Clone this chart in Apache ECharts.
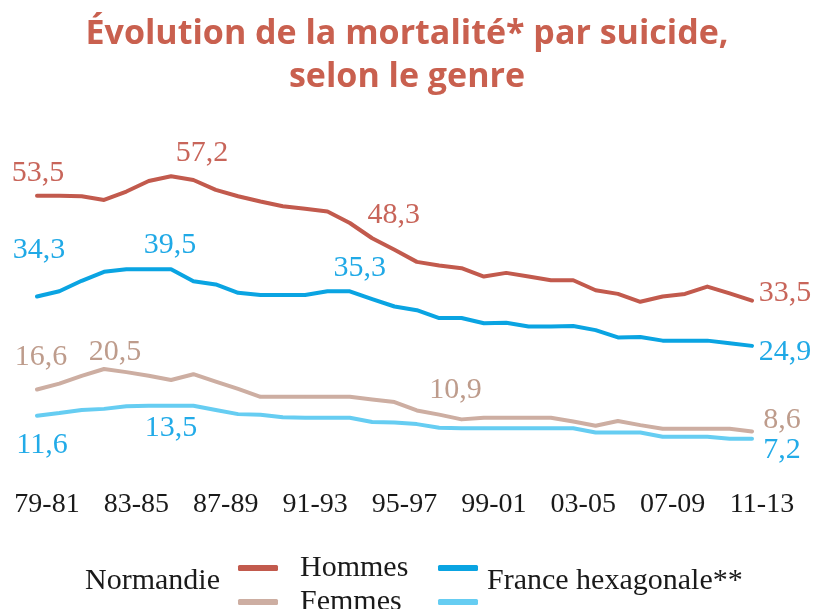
<!DOCTYPE html>
<html><head><meta charset="utf-8">
<script src="https://cdn.jsdelivr.net/npm/echarts@6/dist/echarts.min.js"></script>
<style>html,body{margin:0;padding:0;background:#fff}#c{width:814px;height:609px}</style>
</head><body><div id="c"></div>
<script>
const categories = ['79-81','80-82','81-83','82-84','83-85','84-86','85-87','86-88','87-89','88-90','89-91','90-92','91-93','92-94','93-95','94-96','95-97','96-98','97-99','98-00','99-01','00-02','01-03','02-04','03-05','04-06','05-07','06-08','07-09','08-10','09-11','10-12','11-13'];
const hommesNormandie = [53.5,53.5,53.4,52.7,54.3,56.3,57.2,56.5,54.6,53.4,52.4,51.5,51.0,50.5,48.3,45.4,43.2,40.9,40.2,39.7,38.1,38.8,38.1,37.4,37.4,35.5,34.8,33.3,34.3,34.8,36.2,34.9,33.5];
const femmesNormandie = [16.6,17.7,19.2,20.5,19.9,19.2,18.4,19.5,18.1,16.7,15.2,15.2,15.2,15.2,15.2,14.7,14.2,12.6,11.8,10.9,11.2,11.2,11.2,11.2,10.5,9.7,10.6,9.8,9.1,9.1,9.1,9.1,8.6];
const hommesFrance = [34.3,35.3,37.3,39.0,39.5,39.5,39.5,37.2,36.6,35.0,34.6,34.6,34.6,35.3,35.3,33.8,32.4,31.7,30.2,30.2,29.2,29.3,28.6,28.6,28.7,27.9,26.5,26.6,25.9,25.9,25.9,25.4,24.9];
const femmesFrance = [11.6,12.1,12.7,12.9,13.4,13.5,13.5,13.5,12.7,11.9,11.8,11.3,11.2,11.2,11.2,10.4,10.3,10.0,9.3,9.2,9.2,9.2,9.2,9.2,9.2,8.4,8.4,8.4,7.6,7.6,7.6,7.2,7.2];
const labelledPoints = {
  hn: [0, 6, 14, 32],
  fn: [0, 3, 19, 32],
  hf: [0, 6, 14, 32],
  ff: [0, 6, 32]
};

// styling / label placement (offsets from the point, in px)
const labelOffsets = {
  hn: [[1,-23],[31,-23],[44,-8],[33,-8]],
  fn: [[4,-32],[11,-17],[-6,-29],[30,-11]],
  hf: [[2,-46],[-1,-24],[10,-23],[33,6]],
  ff: [[5,29],[0,22],[30,11]]
};
const serif = '"Liberation Serif","Times New Roman",serif';
const colors = {hn:'#C25A4D', fn:'#CDAEA2', hf:'#0AA4E2', ff:'#66CDF2'};
const labelColors = {hn:'#C8655A', fn:'#BE9C8C', hf:'#20A9E6', ff:'#22ABE8'};
function fmt(v){ return v.toFixed(1).replace('.', ','); }
function buildData(key, values){
  const idx = labelledPoints[key];
  return values.map((v, i) => {
    const k = idx.indexOf(i);
    if (k < 0) return v;
    return {value: v, label: {show: true, position: 'inside', offset: labelOffsets[key][k],
      color: labelColors[key], fontSize: 30, fontFamily: serif, formatter: fmt(v)}};
  });
}
function mkSeries(name, key, values, z){
  return {name, type: 'line', data: buildData(key, values), symbol: 'circle', symbolSize: 1, showSymbol: true,
    lineStyle: {width: 4, color: colors[key], cap: 'round', join: 'round'},
    itemStyle: {color: colors[key]}, label: {show: false}, emphasis: {disabled: true}, silent: true, z};
}
const chart = echarts.init(document.getElementById('c'));
chart.setOption({
  animation: false,
  backgroundColor: '#fff',
  title: {text: 'Évolution de la mortalité* par suicide,\nselon le genre', left: 'center', top: 8,
    textStyle: {fontFamily: '"Open Sans"', fontWeight: 'bold', fontSize: 34, color: '#C9604F', lineHeight: 43}},
  grid: {left: 37, right: 62, top: 161.6, bottom: 132.4},
  xAxis: {type: 'category', data: categories, boundaryGap: false,
    axisLine: {show: false}, axisTick: {show: false}, splitLine: {show: false},
    axisLabel: {interval: 3, margin: 14, fontFamily: serif, fontSize: 28, color: '#1a1a1a', padding: [0,0,0,20]}},
  yAxis: {type: 'value', min: 0, max: 60, show: false},
  legend: [
    {data: ['Hommes','Femmes'], orient: 'vertical', left: 233, top: 548, height: 120, itemWidth: 40, itemHeight: 6, itemGap: 4,
      icon: 'roundRect', selectedMode: false, textStyle: {fontFamily: serif, fontSize: 30, color: '#1a1a1a', lineHeight: 30, padding: [0,0,0,17]}},
    {data: ['France Hommes','France Femmes'], orient: 'vertical', left: 433, top: 548, height: 120, itemWidth: 40, itemHeight: 6, itemGap: 4,
      icon: 'roundRect', selectedMode: false, formatter: () => ' ', textStyle: {fontFamily: serif, fontSize: 30, color: '#1a1a1a', lineHeight: 30}}
  ],
  graphic: [
    {type: 'text', x: 85, y: 581, style: {text: 'Normandie', fontFamily: serif, fontSize: 30, fill: '#1a1a1a', verticalAlign: 'middle', align: 'left'}},
    {type: 'text', x: 487, y: 581, style: {text: 'France hexagonale**', fontFamily: serif, fontSize: 30, fill: '#1a1a1a', verticalAlign: 'middle', align: 'left'}}
  ],
  series: [
    mkSeries('Femmes', 'fn', femmesNormandie, 2),
    mkSeries('France Femmes', 'ff', femmesFrance, 3),
    mkSeries('France Hommes', 'hf', hommesFrance, 4),
    mkSeries('Hommes', 'hn', hommesNormandie, 5)
  ]
});
</script></body></html>
